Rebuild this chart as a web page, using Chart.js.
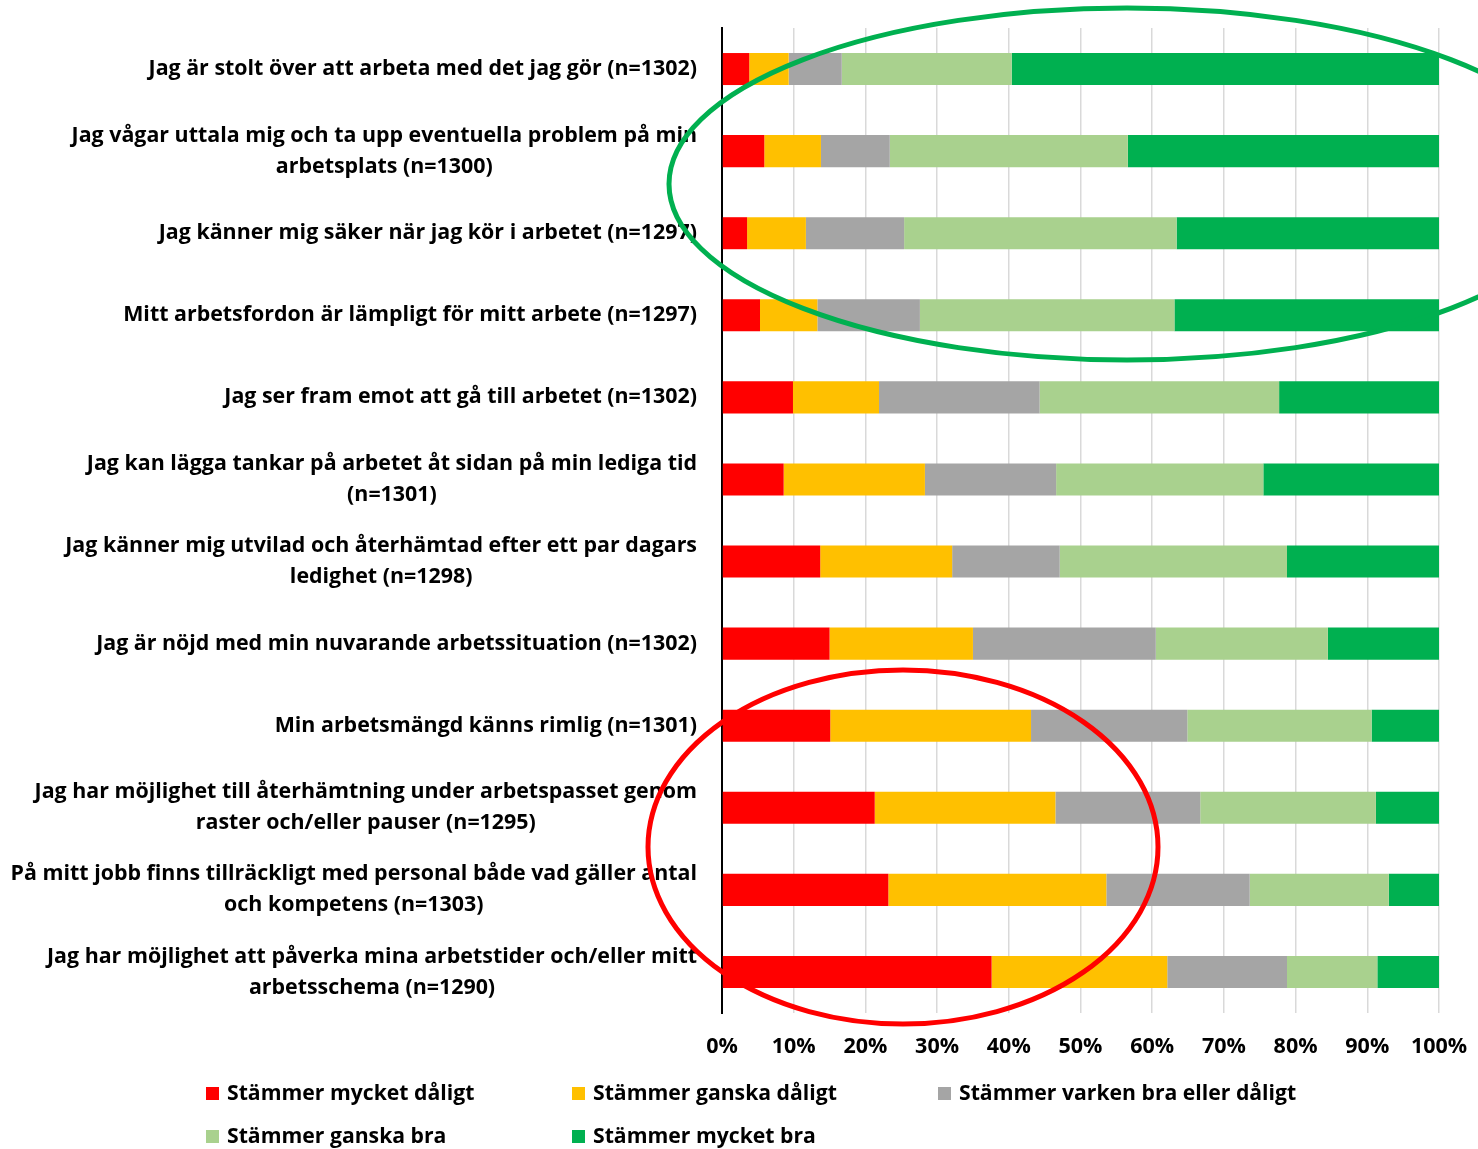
<!DOCTYPE html>
<html>
<head>
<meta charset="utf-8">
<script src="https://cdn.jsdelivr.net/npm/chart.js@4"></script>
<style>
  html, body { margin: 0; padding: 0; background: #ffffff; }
  #wrap { position: relative; width: 1478px; height: 1149px; }
</style>
</head>
<body>
<div id="wrap"><canvas id="c"></canvas></div>
<script>
const categories = [
  ["Jag är stolt över att arbeta med det jag gör (n=1302)"],
  ["Jag vågar uttala mig och ta upp eventuella problem på min", "arbetsplats (n=1300)"],
  ["Jag känner mig säker när jag kör i arbetet (n=1297)"],
  ["Mitt arbetsfordon är lämpligt för mitt arbete (n=1297)"],
  ["Jag ser fram emot att gå till arbetet (n=1302)"],
  ["Jag kan lägga tankar på arbetet åt sidan på min lediga tid", "(n=1301)"],
  ["Jag känner mig utvilad och återhämtad efter ett par dagars", "ledighet (n=1298)"],
  ["Jag är nöjd med min nuvarande arbetssituation (n=1302)"],
  ["Min arbetsmängd känns rimlig (n=1301)"],
  ["Jag har möjlighet till återhämtning under arbetspasset genom", "raster och/eller pauser (n=1295)"],
  ["På mitt jobb finns tillräckligt med personal både vad gäller antal", "och kompetens (n=1303)"],
  ["Jag har möjlighet att påverka mina arbetstider och/eller mitt", "arbetsschema (n=1290)"]
];
const seriesNames = [
  "Stämmer mycket dåligt",
  "Stämmer ganska dåligt",
  "Stämmer varken bra eller dåligt",
  "Stämmer ganska bra",
  "Stämmer mycket bra"
];
const veryBad    = [3.8, 5.9, 3.5, 5.3, 9.9, 8.6, 13.7, 15.0, 15.1, 21.3, 23.2, 37.6];
const ratherBad  = [5.5, 7.9, 8.2, 8.0, 12.0, 19.7, 18.4, 20.0, 28.0, 25.2, 30.4, 24.5];
const neutral    = [7.4, 9.6, 13.7, 14.3, 22.4, 18.3, 15.0, 25.5, 21.8, 20.2, 20.0, 16.7];
const ratherGood = [23.7, 33.2, 38.0, 35.5, 33.4, 28.9, 31.7, 24.0, 25.7, 24.5, 19.4, 12.6];
const veryGood   = [59.6, 43.4, 36.6, 36.9, 22.3, 24.5, 21.2, 15.5, 9.4, 8.8, 7.0, 8.6];
const tickValues = [0, 10, 20, 30, 40, 50, 60, 70, 80, 90, 100];

const colors = ["#FF0000", "#FFC000", "#A5A5A5", "#A9D18E", "#00B050"];
const FONT = "'Open Sans', Lato, sans-serif";

const seriesValues = [veryBad, ratherBad, neutral, ratherGood, veryGood];

// Annotation ellipses (pixel geometry of the hand-drawn highlights)
const annotations = [
  { cx: 1127, cy: 184, rx: 458, ry: 176, color: "#00B050" },
  { cx: 903, cy: 847, rx: 255, ry: 177, color: "#FF0000" }
];

const labelPlugin = {
  id: "labelsAndOverlays",
  afterDraw(chart) {
    const ctx = chart.ctx;
    const yScale = chart.scales.y;
    ctx.save();
    // Category labels
    ctx.font = "bold 21.4px " + FONT;
    ctx.fillStyle = "#000000";
    ctx.textAlign = "center";
    ctx.textBaseline = "middle";
    const right = 697;
    const lh = 31;
    categories.forEach((lines, i) => {
      const y = yScale.getPixelForValue(i);
      let maxW = 0;
      lines.forEach(l => { maxW = Math.max(maxW, ctx.measureText(l).width); });
      const cx = right - maxW / 2;
      lines.forEach((l, j) => {
        ctx.fillText(l, cx, y + (j - (lines.length - 1) / 2) * lh);
      });
    });
    // Legend
    const cols = [206, 572, 938];
    const rows = [1094, 1137];
    ctx.font = "bold 21.2px " + FONT;
    ctx.textAlign = "left";
    chart.data.datasets.forEach((ds, k) => {
      const cx = cols[k % 3];
      const cy = rows[Math.floor(k / 3)];
      ctx.fillStyle = ds.backgroundColor;
      ctx.fillRect(cx, cy - 7, 13, 13);
      ctx.fillStyle = "#000000";
      ctx.fillText(ds.label, cx + 21, cy);
    });
    // Ellipses
    annotations.forEach(a => {
      ctx.beginPath();
      ctx.ellipse(a.cx, a.cy, a.rx, a.ry, 0, 0, Math.PI * 2);
      ctx.lineWidth = 5;
      ctx.strokeStyle = a.color;
      ctx.stroke();
    });
    ctx.restore();
  }
};

new Chart(document.getElementById("c"), {
  type: "bar",
  data: {
    labels: categories,
    datasets: seriesValues.map((vals, k) => ({
      label: seriesNames[k],
      data: vals,
      backgroundColor: colors[k],
      borderWidth: 0,
      categoryPercentage: 1.0,
      barPercentage: 0.39
    }))
  },
  options: {
    indexAxis: "y",
    responsive: true,
    maintainAspectRatio: false,
    animation: false,
    layout: { padding: { top: 28, right: 39, left: 0, bottom: 0 } },
    plugins: {
      legend: { display: false },
      tooltip: { enabled: false }
    },
    scales: {
      x: {
        stacked: true,
        min: 0,
        max: 100,
        afterBuildTicks(scale) { scale.ticks = tickValues.map(v => ({ value: v })); },
        afterFit(scale) {
          scale.height = 136;
          scale.paddingLeft = 0;
          scale.paddingRight = 0;
        },
        border: { display: false },
        grid: { color: "#D9D9D9", lineWidth: 1.5, drawTicks: false },
        ticks: {
          padding: 21,
          color: "#000000",
          font: { family: FONT, size: 21.5, weight: "bold" },
          callback: v => v + "%",
          maxRotation: 0,
          autoSkip: false
        }
      },
      y: {
        stacked: true,
        afterFit(scale) { scale.width = 722; },
        border: { display: true, color: "#000000", width: 2 },
        grid: { display: false, drawTicks: false },
        ticks: { display: false }
      }
    }
  },
  plugins: [labelPlugin]
});
</script>
</body>
</html>
